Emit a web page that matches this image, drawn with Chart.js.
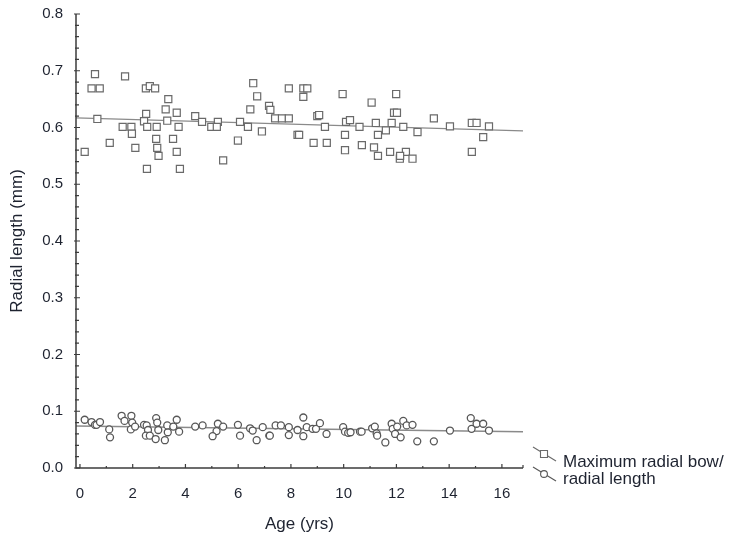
<!DOCTYPE html>
<html>
<head>
<meta charset="utf-8">
<style>
  html, body { margin: 0; padding: 0; background: #fff; }
  #wrap { width: 731px; height: 538px; }
</style>
<script src="https://cdn.jsdelivr.net/npm/chart.js@4/dist/chart.umd.min.js"></script>
</head>
<body>
<div id="wrap"><canvas id="c" width="731" height="538"></canvas></div>
<script>
// Maximum radial bow (squares)
const bowAge = [0.57, 1.71, 0.44, 0.75, 2.50, 2.65, 2.85, 6.57, 7.92, 6.72, 3.35, 7.17, 7.22, 6.46, 3.25,
  2.51, 3.67, 4.37, 0.66, 2.43, 3.31, 4.63, 5.23, 6.07, 7.40, 7.66, 7.92, 1.62, 1.95, 2.55, 2.91, 3.74,
  4.98, 5.19, 6.37, 1.97, 6.90, 8.25, 1.13, 2.89, 3.53, 5.99, 0.18, 2.10, 2.93, 3.67, 2.98, 5.43, 2.54,
  3.79, 8.47, 8.62, 8.47, 9.96, 11.99, 11.06, 11.91, 12.02, 9.00, 9.07, 13.42, 10.09, 10.24, 11.22,
  11.82, 9.29, 10.60, 12.26, 14.03, 14.86, 15.04, 15.51, 11.60, 12.80, 8.31, 10.05, 11.30, 15.29, 8.86,
  9.36, 10.69, 11.15, 10.05, 11.76, 12.36, 11.30, 12.13, 12.14, 12.61, 14.86];
const bowValue = [0.694, 0.690, 0.669, 0.669, 0.669, 0.673, 0.669, 0.678, 0.669, 0.655, 0.650, 0.638,
  0.631, 0.632, 0.632, 0.624, 0.626, 0.620, 0.615, 0.611, 0.612, 0.610, 0.610, 0.610, 0.616, 0.616,
  0.616, 0.601, 0.601, 0.601, 0.601, 0.601, 0.601, 0.601, 0.601, 0.589, 0.593, 0.587, 0.573, 0.580,
  0.580, 0.577, 0.557, 0.564, 0.564, 0.557, 0.550, 0.542, 0.527, 0.527, 0.669, 0.669, 0.654, 0.659,
  0.659, 0.644, 0.626, 0.626, 0.620, 0.622, 0.616, 0.610, 0.613, 0.608, 0.608, 0.601, 0.601, 0.601,
  0.602, 0.608, 0.608, 0.602, 0.595, 0.592, 0.587, 0.587, 0.587, 0.583, 0.573, 0.573, 0.569, 0.565,
  0.560, 0.557, 0.557, 0.550, 0.545, 0.550, 0.545, 0.557];

// Radial length (circles)
const lenAge = [0.18, 0.44, 0.57, 0.63, 0.76, 1.11, 1.14, 1.58, 1.69, 1.95, 1.98, 1.93, 2.09, 2.43, 2.53,
  2.58, 2.50, 2.65, 2.89, 2.93, 2.97, 2.87, 3.22, 3.33, 3.31, 3.54, 3.67, 3.76, 4.37, 4.65, 5.23, 5.18,
  5.03, 5.43, 5.99, 6.07, 6.45, 6.55, 6.70, 6.93, 7.18, 7.20, 7.42, 7.62, 7.92, 7.92, 8.25, 8.47, 8.47,
  8.60, 8.82, 8.95, 9.10, 9.35, 9.98, 10.05, 10.17, 10.26, 10.62, 10.68, 11.08, 11.18, 11.25, 11.27,
  11.58, 11.82, 11.86, 12.03, 11.95, 12.16, 12.26, 12.39, 12.61, 12.79, 13.42, 14.03, 14.82, 14.85,
  15.04, 15.29, 15.51];
const lenValue = [0.085, 0.081, 0.076, 0.076, 0.081, 0.068, 0.054, 0.092, 0.083, 0.092, 0.080, 0.068,
  0.073, 0.076, 0.075, 0.067, 0.057, 0.057, 0.088, 0.080, 0.067, 0.051, 0.049, 0.063, 0.075, 0.073,
  0.085, 0.064, 0.073, 0.075, 0.078, 0.065, 0.056, 0.073, 0.076, 0.057, 0.070, 0.066, 0.049, 0.072,
  0.057, 0.057, 0.075, 0.075, 0.072, 0.058, 0.067, 0.089, 0.056, 0.072, 0.069, 0.069, 0.079, 0.060,
  0.072, 0.064, 0.062, 0.063, 0.064, 0.064, 0.070, 0.073, 0.061, 0.057, 0.045, 0.078, 0.069, 0.073,
  0.060, 0.054, 0.083, 0.075, 0.076, 0.047, 0.047, 0.066, 0.088, 0.069, 0.078, 0.078, 0.066];

// fitted lines (start/end)
const trendAge = [-0.15, 16.8];
const bowTrend = [0.617, 0.594];
const lenTrend = [0.074, 0.064];

const xTickLabels = [0, 2, 4, 6, 8, 10, 12, 14, 16];
const yTickLabels = ['0.0', '0.1', '0.2', '0.3', '0.4', '0.5', '0.6', '0.7', '0.8'];
const legendLines = ['Maximum radial bow/', 'radial length'];

const squareColor = '#6a6a6a';
const circleColor = '#575757';
const lineColor = '#8a8a8a';
const axisColor = '#3c3c3c';
const textColor = '#1e2330';
const FONT = "'Liberation Sans', Arial, sans-serif";

const pts = (xs, ys) => xs.map((x, i) => ({ x: x, y: ys[i] }));

// axis lines + small ticks (x ticks up, y ticks across)
const axesPlugin = {
  id: 'axes',
  afterDatasetsDraw(chart) {
    const { ctx, chartArea: a, scales: { x, y } } = chart;
    ctx.save();
    ctx.strokeStyle = axisColor;
    ctx.lineWidth = 1.5;
    ctx.beginPath();
    ctx.moveTo(a.left, a.top);
    ctx.lineTo(a.left, a.bottom);
    ctx.lineTo(a.right, a.bottom);
    ctx.stroke();

    ctx.lineWidth = 1.2;
    ctx.beginPath();
    for (let v = 0; v <= 16.8; v += 1) {
      const px = x.getPixelForValue(v);
      const len = v % 2 === 0 ? 4 : 2;
      ctx.moveTo(px, a.bottom);
      ctx.lineTo(px, a.bottom - len);
    }
    ctx.moveTo(a.right, a.bottom);
    ctx.lineTo(a.right, a.bottom - 3);
    for (let i = 0; i <= 40; i++) {
      const py = y.getPixelForValue(i * 0.02);
      const major = i % 5 === 0;
      ctx.moveTo(a.left - (major ? 2 : 1), py);
      ctx.lineTo(a.left + (major ? 4 : 3), py);
    }
    ctx.stroke();
    ctx.restore();
  }
};

// legend in bottom-right, outside the plot
const legendPlugin = {
  id: 'sideLegend',
  afterDraw(chart) {
    const { ctx, chartArea: a } = chart;
    const x0 = a.right + 10;
    ctx.save();
    ctx.lineWidth = 1.1;
    [a.bottom - 21, a.bottom - 1].forEach((top, i) => {
      ctx.strokeStyle = i === 0 ? squareColor : circleColor;
      ctx.beginPath();
      ctx.moveTo(x0, top);
      ctx.lineTo(x0 + 23, top + 14);
      ctx.stroke();
      const mx = x0 + 11, my = top + 7;
      ctx.fillStyle = '#fff';
      ctx.beginPath();
      if (i === 0) ctx.rect(mx - 3.5, my - 3.5, 7, 7);
      else ctx.arc(mx, my, 3.4, 0, Math.PI * 2);
      ctx.fill();
      ctx.stroke();
    });
    ctx.fillStyle = textColor;
    ctx.font = '17px ' + FONT;
    ctx.textBaseline = 'middle';
    ctx.fillText(legendLines[0], x0 + 30, a.bottom - 6);
    ctx.fillText(legendLines[1], x0 + 30, a.bottom + 11.5);
    ctx.restore();
  }
};

new Chart(document.getElementById('c'), {
  type: 'scatter',
  data: {
    datasets: [
      {
        label: 'Maximum radial bow',
        data: pts(bowAge, bowValue),
        pointStyle: 'rect',
        pointRadius: 5,
        borderColor: squareColor,
        backgroundColor: '#fff',
        borderWidth: 1.2
      },
      {
        label: 'Radial length',
        data: pts(lenAge, lenValue),
        pointStyle: 'circle',
        pointRadius: 3.5,
        borderColor: circleColor,
        backgroundColor: '#fff',
        borderWidth: 1.3
      },
      {
        type: 'line',
        data: pts(trendAge, bowTrend),
        borderColor: lineColor,
        borderWidth: 1.4,
        pointRadius: 0,
        order: 5
      },
      {
        type: 'line',
        data: pts(trendAge, lenTrend),
        borderColor: lineColor,
        borderWidth: 1.4,
        pointRadius: 0,
        order: 5
      }
    ]
  },
  options: {
    responsive: false,
    animation: false,
    layout: { padding: { left: 0, top: 14, right: 208, bottom: 3 } },
    plugins: { legend: { display: false }, tooltip: { enabled: false } },
    scales: {
      x: {
        type: 'linear',
        min: trendAge[0],
        max: trendAge[1],
        grid: { display: false, drawTicks: false },
        border: { display: false },
        afterFit(s) { s.height = 67; s.paddingLeft = 0; s.paddingRight = 0; },
        afterBuildTicks(s) { s.ticks = xTickLabels.map(v => ({ value: v })); },
        ticks: {
          padding: 17,
          color: textColor,
          font: { family: FONT, size: 15 },
          maxRotation: 0,
          callback: v => String(v)
        },
        title: {
          display: true,
          text: 'Age (yrs)',
          color: textColor,
          font: { family: FONT, size: 17 },
          padding: { top: 0, bottom: 0 }
        }
      },
      y: {
        min: 0,
        max: 0.8,
        grid: { display: false, drawTicks: false },
        border: { display: false },
        afterFit(s) { s.width = 76; s.paddingTop = 0; s.paddingBottom = 0; },
        afterBuildTicks(s) { s.ticks = yTickLabels.map(t => ({ value: parseFloat(t) })); },
        ticks: {
          padding: 13,
          color: textColor,
          font: { family: FONT, size: 15 },
          callback: (v, i) => yTickLabels[i]
        },
        title: {
          display: true,
          text: 'Radial length (mm)',
          color: textColor,
          font: { family: FONT, size: 17 },
          padding: { top: 7, bottom: 0 }
        }
      }
    }
  },
  plugins: [axesPlugin, legendPlugin]
});
</script>
</body>
</html>
